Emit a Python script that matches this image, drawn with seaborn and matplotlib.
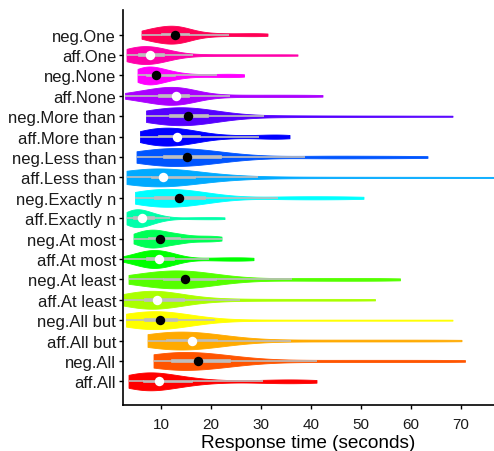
import matplotlib
matplotlib.use("Agg")
import matplotlib.pyplot as plt
import seaborn as sns
import pandas as pd

# Categories, top to bottom
categories = ["neg.One", "aff.One", "neg.None", "aff.None", "neg.More than",
              "aff.More than", "neg.Less than", "aff.Less than", "neg.Exactly n",
              "aff.Exactly n", "neg.At most", "aff.At most", "neg.At least",
              "aff.At least", "neg.All but", "aff.All but", "neg.All", "aff.All"]

colors = ["#FF0055", "#FF00AA", "#FF00FF", "#AA00FF", "#5500FF", "#0000FF",
          "#0055FF", "#00AAFF", "#00FFFF", "#00FFAA", "#00FF55", "#00FF00",
          "#55FF00", "#AAFF00", "#FFFF00", "#FFAA00", "#FF5500", "#FF0000"]

# Response times (seconds), estimated from the figure
neg_one = [6.1, 6.5, 7.0, 7.6, 8.3, 8.9, 9.5, 10.1, 10.5, 10.9, 11.3, 11.6, 12.0, 12.3, 12.7,
           13.1, 13.5, 13.9, 14.3, 14.7, 15.1, 15.5, 16.8, 18.6, 20.5, 23.5, 26.5, 29.0, 31.3]
aff_one = [3.1, 3.2, 3.4, 3.7, 4.0, 4.4, 4.9, 5.5, 5.8, 6.1, 6.5, 6.8, 7.1, 7.5, 7.8,
           8.2, 8.6, 9.0, 9.4, 9.8, 10.2, 10.5, 11.6, 13.0, 16.4, 21.5, 26.5, 32.0, 37.3]
neg_none = [5.3, 5.4, 5.6, 5.8, 6.0, 6.3, 6.7, 7.1, 7.3, 7.6, 7.8, 8.1, 8.3, 8.6, 8.9,
            9.3, 9.8, 10.3, 10.9, 11.5, 12.1, 12.8, 14.0, 16.0, 18.5, 21.1, 23.0, 24.8, 26.6]
aff_none = [2.8, 4.0, 5.2, 6.3, 7.2, 8.0, 8.8, 9.5, 10.0, 10.5, 11.0, 11.5, 11.9, 12.4, 12.9,
            13.3, 13.7, 14.1, 14.5, 14.8, 15.2, 15.5, 17.0, 19.5, 23.8, 28.5, 33.0, 37.5, 42.3]
neg_more = [7.0, 7.3, 7.8, 8.5, 9.3, 10.2, 11.0, 11.8, 12.3, 12.8, 13.3, 13.8, 14.3, 14.8, 15.3,
            15.8, 16.4, 17.0, 17.6, 18.2, 18.8, 19.3, 21.0, 24.0, 30.5, 38.0, 47.0, 57.0, 68.3]
aff_more = [5.8, 6.0, 6.4, 6.9, 7.6, 8.3, 8.9, 9.5, 10.0, 10.5, 11.0, 11.5, 12.0, 12.6, 13.1,
            13.7, 14.3, 14.9, 15.6, 16.3, 17.0, 17.7, 19.5, 22.0, 25.0, 29.5, 32.0, 34.0, 35.7]
neg_less = [5.1, 5.4, 6.0, 6.8, 7.7, 8.7, 9.6, 10.5, 11.2, 11.8, 12.5, 13.1, 13.8, 14.4, 15.1,
            15.9, 16.8, 17.7, 18.7, 19.8, 20.8, 21.9, 24.5, 29.0, 38.8, 44.0, 50.0, 56.5, 63.3]
aff_less = [3.1, 3.4, 3.9, 4.6, 5.4, 6.3, 7.2, 8.1, 8.5, 8.8, 9.1, 9.4, 9.7, 10.0, 10.3,
            10.8, 11.5, 12.4, 13.5, 14.8, 15.8, 16.8, 19.5, 23.5, 29.3, 40.0, 52.0, 65.0, 80.0]
neg_exact = [4.8, 5.0, 5.5, 6.1, 6.8, 7.5, 8.2, 8.8, 9.5, 10.2, 10.9, 11.6, 12.2, 12.9, 13.5,
             14.2, 14.9, 15.7, 16.5, 17.3, 18.0, 18.8, 21.0, 25.5, 33.3, 37.5, 41.5, 46.0, 50.5]
aff_exact = [3.1, 3.3, 3.5, 3.7, 3.9, 4.1, 4.3, 4.5, 4.7, 4.9, 5.1, 5.4, 5.6, 5.9, 6.1,
             6.4, 6.7, 7.0, 7.4, 7.8, 8.1, 8.5, 9.3, 10.3, 11.8, 15.5, 18.0, 20.5, 22.7]
neg_atmost = [4.5, 4.7, 5.1, 5.6, 6.1, 6.6, 7.1, 7.5, 7.9, 8.2, 8.5, 8.8, 9.1, 9.5, 9.8,
              10.3, 10.9, 11.5, 12.2, 12.8, 13.3, 13.8, 14.8, 16.0, 17.3, 18.6, 19.8, 21.0, 22.1]
aff_atmost = [2.3, 3.5, 4.6, 5.4, 6.0, 6.5, 6.8, 7.1, 7.5, 7.8, 8.1, 8.5, 8.8, 9.1, 9.5,
              9.9, 10.3, 10.7, 11.2, 11.6, 12.0, 12.5, 13.5, 15.5, 19.5, 22.0, 24.3, 26.5, 28.5]
neg_atleast = [3.5, 4.3, 5.4, 6.6, 7.8, 8.9, 9.8, 10.6, 11.3, 11.9, 12.5, 13.1, 13.6, 14.2, 14.8,
               15.5, 16.2, 17.0, 18.0, 19.0, 20.0, 21.0, 24.0, 28.5, 36.1, 41.5, 47.0, 52.5, 57.8]
aff_atleast = [2.5, 2.8, 3.4, 4.2, 5.0, 5.7, 6.3, 6.8, 7.2, 7.6, 8.0, 8.3, 8.6, 8.9, 9.1,
               9.7, 10.4, 11.2, 12.1, 13.0, 13.8, 14.5, 17.0, 20.5, 25.8, 32.0, 39.0, 46.0, 52.8]
neg_allbut = [3.0, 3.2, 3.6, 4.2, 4.9, 5.6, 6.2, 6.8, 7.3, 7.8, 8.2, 8.6, 9.0, 9.3, 9.7,
              10.1, 10.6, 11.1, 11.6, 12.1, 12.6, 13.1, 14.5, 16.8, 20.8, 32.0, 44.0, 56.0, 68.3]
aff_allbut = [7.3, 7.5, 8.0, 8.6, 9.3, 10.0, 10.6, 11.1, 11.8, 12.5, 13.2, 13.9, 14.6, 15.3, 16.1,
              16.8, 17.6, 18.4, 19.2, 19.9, 20.5, 21.1, 23.5, 28.0, 36.0, 44.5, 53.0, 61.5, 70.1]
neg_all = [8.5, 8.7, 9.1, 9.7, 10.3, 11.0, 11.6, 12.1, 12.8, 13.5, 14.3, 15.0, 15.8, 16.5, 17.3,
           18.1, 19.0, 19.9, 20.9, 21.9, 22.9, 23.8, 27.0, 32.5, 41.2, 48.5, 56.0, 63.5, 70.8]
aff_all = [3.5, 3.7, 4.1, 4.6, 5.1, 5.6, 6.1, 6.5, 7.0, 7.4, 7.9, 8.3, 8.7, 9.1, 9.5,
           10.2, 11.0, 11.9, 12.9, 14.0, 15.0, 16.1, 19.0, 23.5, 30.3, 33.0, 35.8, 38.5, 41.1]

series = [neg_one, aff_one, neg_none, aff_none, neg_more, aff_more, neg_less,
          aff_less, neg_exact, aff_exact, neg_atmost, aff_atmost, neg_atleast,
          aff_atleast, neg_allbut, aff_allbut, neg_all, aff_all]

x_ticks = [10, 20, 30, 40, 50, 60, 70]

rows = []
for cat, vals in zip(categories, series):
    for v in vals:
        rows.append({"cond": cat, "time": v, "pol": cat.split(".")[0]})
df = pd.DataFrame(rows)
med = df.groupby("cond", sort=False).agg(time=("time", "median"),
                                          pol=("pol", "first")).reset_index()

sns.set_theme(style="ticks")
plt.rcParams["font.family"] = ["Liberation Sans", "DejaVu Sans"]

fig = plt.figure(figsize=(4.94, 4.52), dpi=100)
ax = fig.add_axes([0.249, 0.1018, 0.751, 0.8739])

sns.violinplot(data=df, x="time", y="cond", order=categories, hue="cond",
               hue_order=categories, palette=colors, legend=False,
               density_norm="width", cut=0, inner=None, linewidth=0.6,
               width=0.88, saturation=1, bw_method=0.38, gridsize=300, ax=ax)
for coll in ax.collections:
    coll.set_edgecolor(coll.get_facecolor())

sns.boxplot(data=df, x="time", y="cond", order=categories, width=0.08,
            color="#bebebe", linecolor="#bebebe", linewidth=1.2, fill=True,
            showfliers=False, showcaps=False, saturation=1, ax=ax)

sns.stripplot(data=med, x="time", y="cond", order=categories, hue="pol",
              hue_order=["neg", "aff"], palette=["black", "white"],
              jitter=False, size=6.8, linewidth=0, legend=False, zorder=5, ax=ax)

ax.set_xlim(2.4, 76.6)
ax.set_ylim(18.16, -1.21)
ax.set_xticks(x_ticks)
ax.set_xticklabels([str(t) for t in x_ticks])
ax.set_ylabel("")
ax.set_xlabel("Response time (seconds)", fontsize=13.7, color="black", labelpad=2)
sns.despine(ax=ax)
for s in ["left", "bottom"]:
    ax.spines[s].set_linewidth(1.2)
    ax.spines[s].set_color("black")
ax.tick_params(axis="y", labelsize=12, colors="black", length=3, width=1.0, pad=2)
ax.tick_params(axis="x", labelsize=11, colors="black", length=3, width=1.0, pad=6)
ax.tick_params(axis="both", labelcolor="#1a1a1a")

fig.savefig("out.png", dpi=100)
